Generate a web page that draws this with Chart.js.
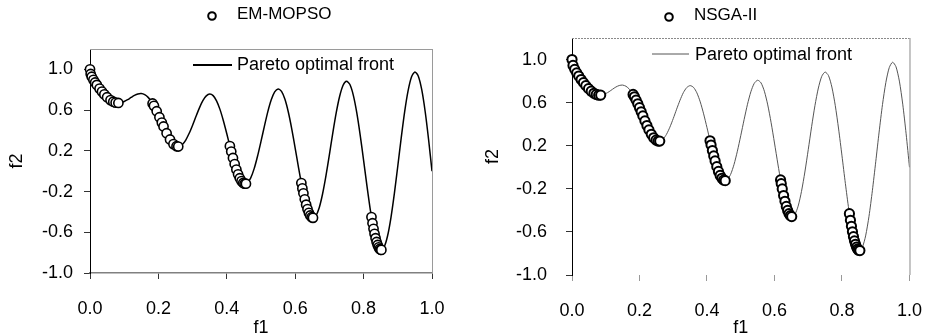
<!DOCTYPE html>
<html>
<head>
<meta charset="utf-8">
<script src="https://cdn.jsdelivr.net/npm/chart.js@4.4.1/dist/chart.umd.min.js"></script>
<style>
  html, body { margin: 0; padding: 0; background: #fff; }
  #wrap { position: relative; width: 941px; height: 336px; overflow: hidden; }
  canvas { position: absolute; top: 0; }
  #left { left: 0; }
  #right { left: 470px; }
</style>
</head>
<body>
<div id="wrap">
  <canvas id="left" width="470" height="336"></canvas>
  <canvas id="right" width="471" height="336"></canvas>
</div>
<script>
"use strict";

// Pareto optimal front, every 0.01 in f1
const frontF1 = [
  0.00, 0.01, 0.02, 0.03, 0.04, 0.05, 0.06, 0.07, 0.08, 0.09,
  0.10, 0.11, 0.12, 0.13, 0.14, 0.15, 0.16, 0.17, 0.18, 0.19,
  0.20, 0.21, 0.22, 0.23, 0.24, 0.25, 0.26, 0.27, 0.28, 0.29,
  0.30, 0.31, 0.32, 0.33, 0.34, 0.35, 0.36, 0.37, 0.38, 0.39,
  0.40, 0.41, 0.42, 0.43, 0.44, 0.45, 0.46, 0.47, 0.48, 0.49,
  0.50, 0.51, 0.52, 0.53, 0.54, 0.55, 0.56, 0.57, 0.58, 0.59,
  0.60, 0.61, 0.62, 0.63, 0.64, 0.65, 0.66, 0.67, 0.68, 0.69,
  0.70, 0.71, 0.72, 0.73, 0.74, 0.75, 0.76, 0.77, 0.78, 0.79,
  0.80, 0.81, 0.82, 0.83, 0.84, 0.85, 0.86, 0.87, 0.88, 0.89,
  0.90, 0.91, 0.92, 0.93, 0.94, 0.95, 0.96, 0.97, 0.98, 0.99, 1.00
];
const frontF2 = [
  1.000, 0.897, 0.847, 0.803, 0.762, 0.726, 0.698, 0.679, 0.670, 0.672,
  0.684, 0.702, 0.724, 0.745, 0.759, 0.763, 0.752, 0.725, 0.682, 0.623,
  0.553, 0.477, 0.402, 0.334, 0.282, 0.250, 0.243, 0.262, 0.306, 0.372,
  0.452, 0.539, 0.622, 0.693, 0.740, 0.758, 0.742, 0.691, 0.607, 0.496,
  0.368, 0.233, 0.105, -0.004, -0.082, -0.121, -0.116, -0.066, 0.025, 0.149,
  0.293, 0.443, 0.585, 0.701, 0.779, 0.808, 0.784, 0.706, 0.579, 0.414,
  0.225, 0.031, -0.152, -0.303, -0.409, -0.456, -0.440, -0.361, -0.224, -0.044,
  0.163, 0.377, 0.575, 0.736, 0.844, 0.884, 0.851, 0.745, 0.575, 0.355,
  0.106, -0.150, -0.388, -0.583, -0.715, -0.772, -0.745, -0.637, -0.455, -0.218,
  0.051, 0.327, 0.582, 0.788, 0.925, 0.975, 0.933, 0.800, 0.586, 0.311, 0.000
];

// EM-MOPSO solutions
const emF1 = [
  0.000, 0.002, 0.005, 0.010, 0.015, 0.020, 0.028, 0.035, 0.042, 0.050, 0.060, 0.068, 0.075, 0.083,
  0.183, 0.187, 0.195, 0.203, 0.210, 0.215, 0.224, 0.234, 0.244, 0.253, 0.258,
  0.409, 0.413, 0.418, 0.423, 0.428, 0.433, 0.438, 0.443, 0.448, 0.452, 0.456,
  0.618, 0.621, 0.624, 0.628, 0.632, 0.636, 0.640, 0.644, 0.648, 0.652,
  0.823, 0.826, 0.829, 0.832, 0.835, 0.838, 0.841, 0.844, 0.847, 0.850, 0.852
];
const emF2 = [
  1.000, 0.955, 0.928, 0.897, 0.871, 0.847, 0.811, 0.782, 0.754, 0.726, 0.698, 0.682, 0.673, 0.670,
  0.665, 0.642, 0.589, 0.530, 0.477, 0.439, 0.373, 0.311, 0.266, 0.245, 0.242,
  0.246, 0.193, 0.130, 0.070, 0.016, -0.031, -0.069, -0.098, -0.116, -0.123, -0.123,
  -0.117, -0.169, -0.217, -0.276, -0.329, -0.373, -0.409, -0.435, -0.452, -0.458,
  -0.451, -0.511, -0.566, -0.615, -0.658, -0.695, -0.725, -0.748, -0.764, -0.772, -0.773
];

// NSGA-II solutions
const nsF1 = [
  0.000, 0.003, 0.008, 0.014, 0.020, 0.027, 0.034, 0.041, 0.049, 0.057, 0.065, 0.072, 0.079, 0.085,
  0.181, 0.185, 0.190, 0.195, 0.200, 0.205, 0.210, 0.216, 0.222, 0.228, 0.235, 0.242, 0.249, 0.255, 0.260,
  0.409, 0.412, 0.416, 0.420, 0.424, 0.429, 0.434, 0.439, 0.444, 0.449, 0.454,
  0.618, 0.620, 0.623, 0.627, 0.631, 0.635, 0.639, 0.643, 0.647, 0.651,
  0.822, 0.825, 0.828, 0.831, 0.834, 0.837, 0.840, 0.843, 0.846, 0.849, 0.853
];
const nsF2 = [
  1.000, 0.945, 0.909, 0.876, 0.847, 0.815, 0.786, 0.758, 0.730, 0.706, 0.687, 0.676, 0.669, 0.670,
  0.676, 0.654, 0.623, 0.589, 0.553, 0.515, 0.477, 0.431, 0.387, 0.347, 0.306, 0.274, 0.252, 0.243, 0.243,
  0.246, 0.206, 0.155, 0.105, 0.059, 0.006, -0.039, -0.076, -0.102, -0.119, -0.124,
  -0.117, -0.152, -0.201, -0.262, -0.316, -0.363, -0.401, -0.430, -0.449, -0.458,
  -0.431, -0.492, -0.548, -0.599, -0.644, -0.683, -0.715, -0.741, -0.759, -0.770, -0.773
];

const xTicks = [0.0, 0.2, 0.4, 0.6, 0.8, 1.0];
const yTicks = [-1.0, -0.6, -0.2, 0.2, 0.6, 1.0];

const FONT = '"Liberation Sans", Arial, sans-serif';
Chart.defaults.font.family = FONT;
Chart.defaults.color = "#000";

function toPoints(xs, ys) {
  return xs.map((x, i) => ({ x: x, y: ys[i] }));
}

// top legend, inner legend and the light box lines
const decor = {
  id: "decor",
  beforeDatasetsDraw(chart, args, o) {
    const { ctx, chartArea: a } = chart;
    ctx.save();
    ctx.strokeStyle = o.boxColor;
    ctx.lineWidth = 1;
    ctx.setLineDash(o.topDash);
    ctx.beginPath();
    ctx.moveTo(a.left, a.top + 0.5);
    ctx.lineTo(a.right, a.top + 0.5);
    ctx.stroke();
    ctx.setLineDash([]);
    ctx.beginPath();
    ctx.moveTo(a.right + 0.5, a.top);
    ctx.lineTo(a.right + 0.5, a.bottom);
    ctx.stroke();
    ctx.restore();
  },
  afterDraw(chart, args, o) {
    const ctx = chart.ctx;
    const pts = chart.data.datasets[0];
    const front = chart.data.datasets[1];
    ctx.save();
    ctx.textBaseline = "middle";
    ctx.textAlign = "left";
    // series marker + name
    ctx.beginPath();
    ctx.arc(o.markX, o.markY, 3.8, 0, Math.PI * 2);
    ctx.fillStyle = "#fff";
    ctx.fill();
    ctx.lineWidth = 2;
    ctx.strokeStyle = "#000";
    ctx.stroke();
    ctx.fillStyle = "#000";
    ctx.font = "17px " + FONT;
    ctx.fillText(pts.label, o.nameX, o.nameY);
    // front legend
    ctx.beginPath();
    ctx.moveTo(o.lineX1, o.lineY);
    ctx.lineTo(o.lineX2, o.lineY);
    ctx.strokeStyle = front.borderColor;
    ctx.lineWidth = o.legendLineW;
    ctx.stroke();
    ctx.font = "18px " + FONT;
    ctx.fillText(front.label, o.frontX, o.frontY);
    ctx.restore();
  }
};

function makeChart(id, c) {
  return new Chart(document.getElementById(id), {
    type: "scatter",
    data: {
      datasets: [
        {
          label: c.name,
          data: toPoints(c.f1, c.f2),
          pointStyle: "circle",
          pointRadius: 4.6,
          pointBorderWidth: c.markW,
          pointBackgroundColor: "#fff",
          pointBorderColor: "#000",
          clip: false
        },
        {
          label: "Pareto optimal front",
          data: toPoints(frontF1, frontF2),
          showLine: true,
          pointRadius: 0,
          borderColor: c.lineColor,
          borderWidth: c.lineW,
          tension: 0.25
        }
      ]
    },
    options: {
      responsive: false,
      animation: false,
      layout: { padding: { top: c.top, right: c.right, left: 0, bottom: 0 } },
      plugins: {
        legend: { display: false },
        tooltip: { enabled: false },
        decor: c.decor
      },
      scales: {
        x: {
          type: "linear",
          min: 0,
          max: 1,
          afterBuildTicks: (s) => { s.ticks = xTicks.map((v) => ({ value: v })); },
          afterFit: (s) => { s.height = c.xAxisH; },
          ticks: {
            padding: c.xPad,
            font: { size: 18 },
            color: "#000",
            maxRotation: 0,
            autoSkip: false,
            callback: (v) => Number(v).toFixed(1)
          },
          grid: { drawOnChartArea: false, tickLength: 6, color: c.xTickColor },
          border: { display: c.xBorder, color: "#808080", width: 1.5 },
          title: { display: true, text: "f1", font: { size: 18 }, color: "#000", padding: { top: 0, bottom: -3 } }
        },
        y: {
          type: "linear",
          min: -1,
          max: 1.2,
          afterBuildTicks: (s) => { s.ticks = yTicks.map((v) => ({ value: v })); },
          afterFit: (s) => { s.width = c.yAxisW; },
          ticks: {
            padding: c.yPad,
            font: { size: 18 },
            color: "#000",
            callback: (v) => Number(v).toFixed(1)
          },
          grid: { drawOnChartArea: false, tickLength: 6, color: "#333" },
          border: { display: true, color: "#000", width: 1 },
          title: { display: true, text: "f2", font: { size: 18 }, color: "#000", padding: { top: c.yTitlePad, bottom: 0 } }
        }
      }
    },
    plugins: [decor]
  });
}

makeChart("left", {
  name: "EM-MOPSO",
  f1: emF1, f2: emF2,
  markW: 1.6,
  lineColor: "#000", lineW: 1.5,
  top: 49, right: 38,
  xAxisH: 63, yAxisW: 90,
  xPad: 19, yPad: 11, yTitlePad: 6,
  xTickColor: "#333", xBorder: true,
  decor: {
    boxColor: "#9a9a9a", topDash: [],
    markX: 212, markY: 16, nameX: 237, nameY: 14,
    lineX1: 193, lineX2: 232, lineY: 65, legendLineW: 2,
    frontX: 237, frontY: 65
  }
});

makeChart("right", {
  name: "NSGA-II",
  f1: nsF1, f2: nsF2,
  markW: 2,
  lineColor: "#555", lineW: 1,
  top: 38, right: 20,
  xAxisH: 61, yAxisW: 102,
  xPad: 19, yPad: 19, yTitlePad: 12,
  xTickColor: "#999", xBorder: false,
  decor: {
    boxColor: "#8a8a8a", topDash: [2, 1],
    markX: 199, markY: 17, nameX: 224, nameY: 15,
    lineX1: 182, lineX2: 219, lineY: 54, legendLineW: 1,
    frontX: 225, frontY: 55
  }
});
</script>
</body>
</html>
